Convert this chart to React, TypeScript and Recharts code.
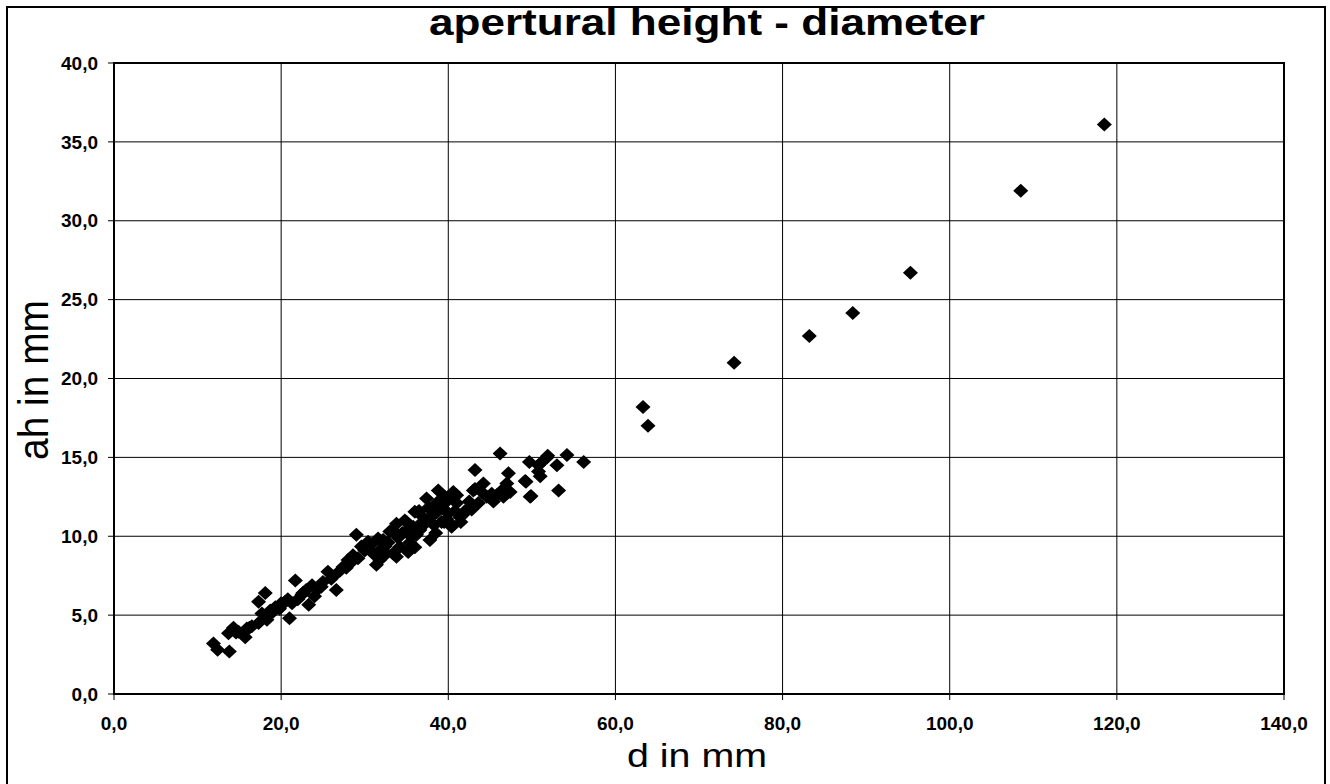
import React from 'react';
import {
  ScatterChart,
  Scatter,
  XAxis,
  YAxis,
  CartesianGrid,
  ReferenceArea,
} from 'recharts';

// d (mm) and apertural height (mm)
const diameterMm = [
  11.9, 12.4, 13.8, 13.7, 14.3, 14.9, 15.7, 15.9, 16.5, 17.3, 17.3, 18.1, 17.7, 18.3, 18.7, 19.3,
  20.0, 20.5, 21.0, 21.3, 21.7, 22.5, 22.6, 23.7, 23.3, 24.0, 25.0, 25.6, 26.2, 26.6, 27.4, 28.0,
  28.6, 29.0, 29.6, 30.4, 31.0, 31.4, 31.6, 32.4, 33.0, 33.4, 33.8, 32.2, 33.4, 34.2, 34.8, 35.6,
  36.0, 36.6, 37.4, 37.0, 37.8, 38.2, 38.8, 39.2, 39.6, 40.0, 40.4, 40.6, 41.0, 41.4, 42.2, 43.2,
  43.2, 43.6, 44.2, 44.6, 32.6, 33.8, 31.8, 46.2, 43.0, 42.8, 45.2, 45.4, 46.4, 46.6, 47.2, 47.0,
  47.4, 49.3, 49.7, 49.9, 50.8, 51.0, 51.2, 51.9, 53.0, 53.2, 54.2, 56.2, 49.2, 49.8, 51.8, 50.8,
  35.2, 36.0, 38.5, 39.5, 40.5, 41.5, 35.0, 36.5, 37.6, 38.6, 39.0, 40.0, 41.0, 34.5, 35.8, 37.2,
  30.0, 27.0, 24.5, 19.0, 14.6, 16.2, 19.8, 22.0, 24.8, 26.0, 27.8, 28.3, 29.2, 30.8, 32.0, 32.8,
  34.0, 34.9, 35.4, 36.2, 36.9, 37.9, 38.3, 39.3, 39.8, 40.8, 41.8, 42.5, 44.0, 45.8, 20.8, 23.0,
  63.3, 63.9, 74.2, 83.2, 88.4, 95.3, 108.5, 118.5,
];

const heightMm = [
  3.2, 2.8, 2.7, 3.85, 4.2, 3.95, 3.6, 4.15, 4.3, 4.5, 5.85, 6.4, 5.1, 4.7, 5.3, 5.5,
  5.75, 5.85, 4.8, 5.75, 7.2, 6.3, 6.4, 6.9, 5.65, 6.2, 7.1, 7.75, 7.45, 6.6, 8.05, 8.5,
  8.8, 10.1, 9.35, 9.65, 8.9, 8.2, 9.85, 9.35, 10.3, 8.9, 10.8, 9.76, 10.4, 9.34, 11.0, 9.97,
  11.55, 10.4, 12.4, 11.2, 9.76, 11.9, 12.9, 10.9, 12.5, 11.45, 10.6, 12.8, 12.1, 11.2, 11.7, 14.2,
  13.0, 12.1, 13.35, 12.5, 8.9, 8.7, 8.5, 15.25, 12.9, 11.7, 12.7, 12.2, 12.9, 12.5, 14.0, 13.35,
  12.8, 13.45, 14.7, 12.55, 14.5, 13.8, 14.7, 15.1, 14.5, 12.9, 15.15, 14.7, 13.5, 12.5, 15.0, 14.1,
  9.0, 9.3, 10.2, 10.9, 10.7, 10.9, 10.9, 11.6, 11.8, 11.5, 12.3, 12.3, 12.6, 10.2, 10.6, 10.8,
  9.1, 7.8, 6.7, 5.2, 3.9, 4.2, 5.4, 6.0, 6.8, 7.3, 8.0, 8.3, 8.6, 9.5, 9.2, 9.6,
  9.9, 10.3, 9.6, 10.1, 10.9, 11.2, 10.7, 11.8, 11.1, 11.6, 11.4, 12.2, 12.8, 12.6, 6.0, 6.6,
  18.2, 17.0, 21.0, 22.7, 24.15, 26.7, 31.9, 36.1,
];

const xTicks = [0, 20, 40, 60, 80, 100, 120, 140];
const yTicks = [0, 5, 10, 15, 20, 25, 30, 35, 40];

const data = diameterMm.map((d, i) => ({ d, ah: heightMm[i] }));

const FONT = '"Liberation Sans", Arial, sans-serif';
const fmt = (v: number) => v.toFixed(1).replace('.', ',');

const Diamond = (props: any) => {
  const { cx, cy } = props;
  if (cx == null || cy == null) return null;
  return (
    <polygon
      points={`${cx},${cy - 7} ${cx + 7.5},${cy} ${cx},${cy + 7} ${cx - 7.5},${cy}`}
      fill="#000"
    />
  );
};

export default function App() {
  return (
    <div style={{ position: 'absolute', left: 0, top: 0, width: 1330, height: 784, background: '#fff' }}>
      <div
        style={{
          position: 'absolute',
          left: 6,
          top: 6,
          width: 1316,
          height: 776,
          border: '2px solid #000',
        }}
      />
      <ScatterChart
        width={1330}
        height={784}
        margin={{ top: 63, right: 46, bottom: 50, left: 54 }}
        style={{ position: 'absolute', left: 0, top: 0, fontFamily: FONT }}
      >
        <CartesianGrid stroke="#000" strokeWidth={1} horizontalValues={yTicks} verticalValues={xTicks} />
        <XAxis
          type="number"
          dataKey="d"
          domain={[0, 140]}
          ticks={xTicks}
          tickFormatter={fmt}
          height={40}
          axisLine={{ stroke: '#000', strokeWidth: 2 }}
          tickLine={{ stroke: '#000' }}
          tickSize={6}
          tickMargin={17}
          tick={{ fill: '#000', fontSize: 19, fontWeight: 'bold', fontFamily: FONT }}
        />
        <YAxis
          type="number"
          dataKey="ah"
          domain={[0, 40]}
          ticks={yTicks}
          tickFormatter={fmt}
          width={60}
          axisLine={{ stroke: '#000', strokeWidth: 2 }}
          tickLine={{ stroke: '#000' }}
          tickSize={6}
          tickMargin={10}
          tick={{ fill: '#000', fontSize: 19, fontWeight: 'bold', fontFamily: FONT }}
        />
        <ReferenceArea x1={0} x2={140} y1={0} y2={40} fill="none" fillOpacity={0} stroke="#000" strokeWidth={2} />
        <Scatter data={data} fill="#000" shape={Diamond} isAnimationActive={false} />
      </ScatterChart>
      <svg
        width={1330}
        height={784}
        style={{ position: 'absolute', left: 0, top: 0, pointerEvents: 'none' }}
      >
        <text
          x={707}
          y={35}
          textAnchor="middle"
          fontFamily={FONT}
          fontWeight="bold"
          fontSize={36}
          textLength={556}
          lengthAdjust="spacingAndGlyphs"
          fill="#000"
        >
          apertural height - diameter
        </text>
        <text
          x={697}
          y={767}
          textAnchor="middle"
          fontFamily={FONT}
          fontSize={34}
          textLength={140}
          lengthAdjust="spacingAndGlyphs"
          fill="#000"
        >
          d in mm
        </text>
        <text
          x={48}
          y={380}
          textAnchor="middle"
          transform="rotate(-90, 48, 380)"
          fontFamily={FONT}
          fontSize={42}
          textLength={160}
          lengthAdjust="spacingAndGlyphs"
          fill="#000"
        >
          ah in mm
        </text>
      </svg>
    </div>
  );
}
